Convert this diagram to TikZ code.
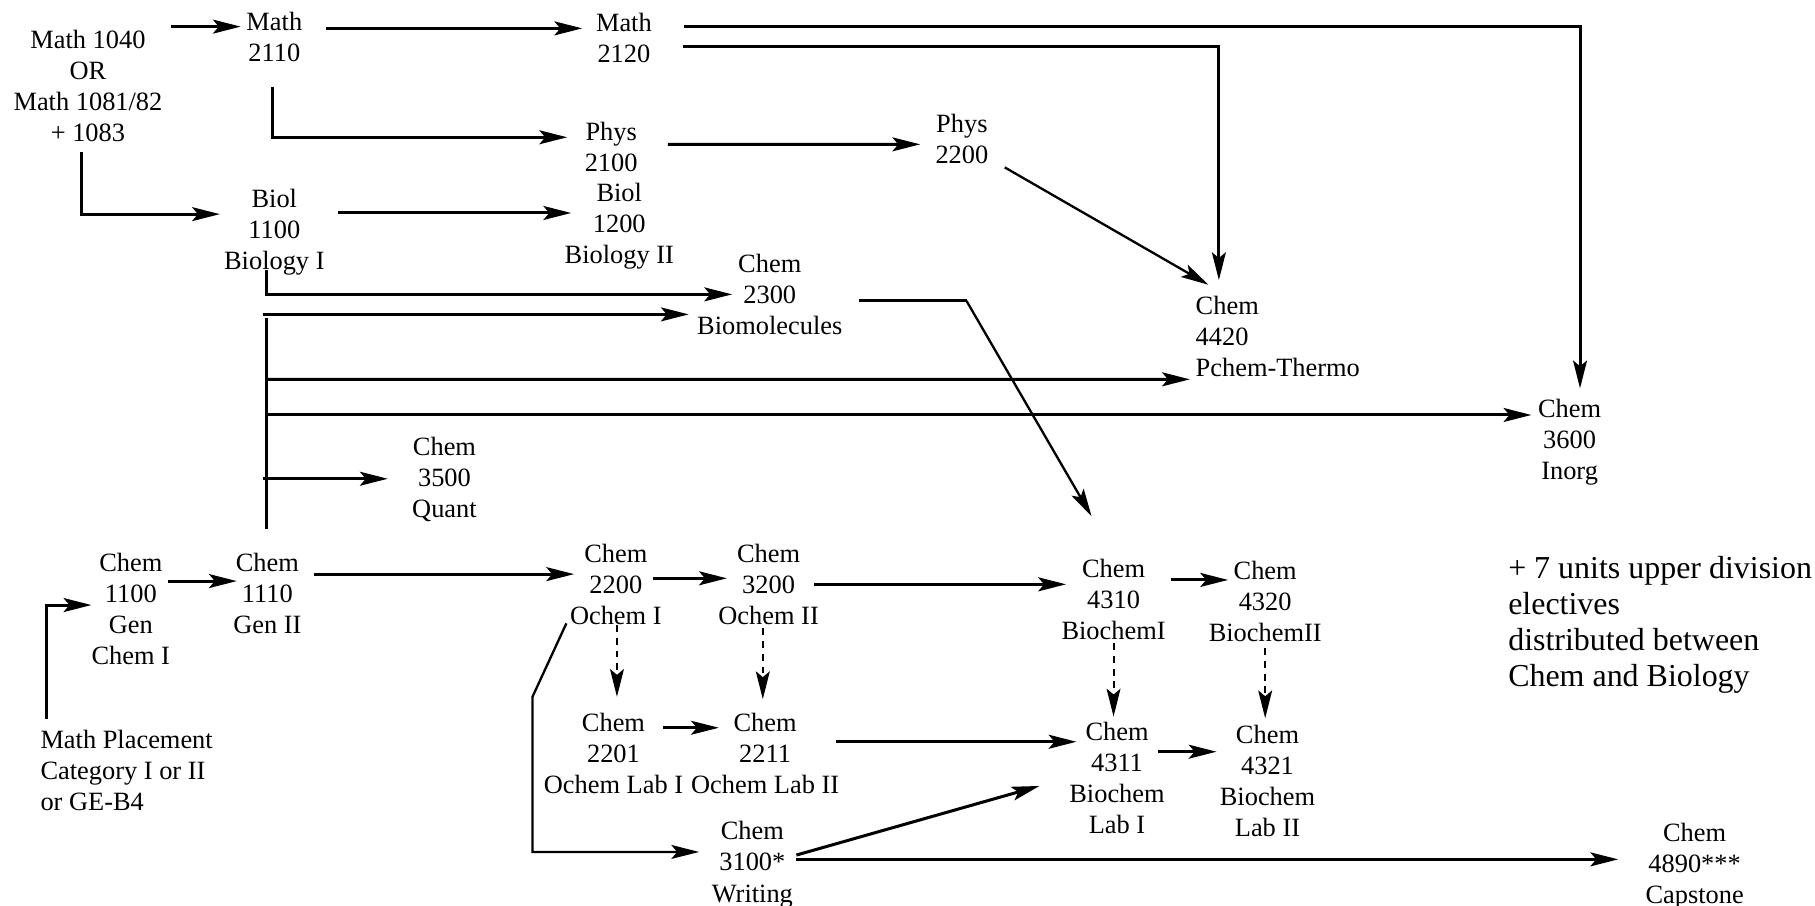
\documentclass[tikz,border=0pt]{standalone}
\usepackage{fontspec}
\setmainfont{Liberation Serif}
\usetikzlibrary{arrows.meta}
\begin{document}
\begin{tikzpicture}[x=0.5pt,y=-0.5pt,
  every node/.style={inner sep=0pt, outer sep=0pt, font=\fontsize{11.4}{13.4}\selectfont, align=center},
  note/.style={align=left, anchor=west},
  bignote/.style={align=left, anchor=west, font=\fontsize{13.8}{15.5}\selectfont},
  link/.style={line width=1.3pt},
  tip/.style={-{Stealth[length=12pt,width=6pt,inset=2.5pt]}},
  arr/.style={link, tip},
  thinarr/.style={line width=1pt, tip},
  dasharr/.style={line width=0.9pt, dash pattern=on 3pt off 2.5pt, tip}]
\useasboundingbox (0,0) rectangle (1568,782);

% nodes
\node (m1040) at (76,74) {Math 1040\\OR\\Math 1081/82\\+ 1083};
\node (m2110) at (237,32) {Math\\2110};
\node (m2120) at (539,33) {Math\\2120};
\node (p2100) at (528,127) {Phys\\2100};
\node (b1200) at (535,195) {Biol\\1200\\Biology II};
\node (p2200) at (831,120) {Phys\\2200};
\node (b1100) at (237,201) {Biol\\1100\\Biology I};
\node (c2300) at (665,254) {Chem\\2300\\Biomolecules};
\node[note] (c4420) at (1033,291) {Chem\\4420\\Pchem-Thermo};
\node (c3600) at (1356,382) {Chem\\3600\\Inorg};
\node (c3500) at (384,414) {Chem\\3500\\Quant};
\node (c1100) at (113,526) {Chem\\1100\\Gen\\Chem I};
\node (c1110) at (231,513) {Chem\\1110\\Gen II};
\node (c2200) at (532,505) {Chem\\2200\\Ochem I};
\node (c3200) at (664,505) {Chem\\3200\\Ochem II};
\node (c4310) at (962,518) {Chem\\4310\\BiochemI};
\node (c4320) at (1093,520) {Chem\\4320\\BiochemII};
\node (c2201) at (530,651) {Chem\\2201\\Ochem Lab I};
\node (c2211) at (661,651) {Chem\\2211\\Ochem Lab II};
\node (c4311) at (965,672) {Chem\\4311\\Biochem\\Lab I};
\node (c4321) at (1095,675) {Chem\\4321\\Biochem\\Lab II};
\node (c3100) at (650,747) {Chem\\3100*\\Writing};
\node (c4890) at (1464,748) {Chem\\4890***\\Capstone};
\node[note] (mplace) at (35,666) {Math Placement\\Category I or II\\or GE-B4};
\node[bignote] (elect) at (1303,540) {+ 7 units upper division\\electives\\distributed between\\Chem and Biology};

% math / physics / biology chain
\draw[arr] ([shift={(72,-51)}]m1040.center) -- ([shift={(-29,-9)}]m2110.center);
\draw[arr] ([shift={(45,-7.5)}]m2110.center) -- ([shift={(-36,-8.5)}]m2120.center);
\draw[arr] ([shift={(52,-10.5)}]m2120.center) -| ([shift={(9,-46.5)}]c3600.center);
\draw[arr] ([shift={(51,7)}]m2120.center) -| ([shift={(20,-49)}]c4420.west);
\draw[arr] ([shift={(-2,43.5)}]m2110.center) |- ([shift={(-38,-8.4)}]p2100.center);
\draw[arr] ([shift={(49,-2.3)}]p2100.center) -- ([shift={(-36,4.7)}]p2200.center);
\draw[thinarr] ([shift={(37,24.6)}]p2200.center) -- ([shift={(11,-45)}]c4420.west);
\draw[arr] ([shift={(-6,57.6)}]m1040.center) |- ([shift={(-47,-16)}]b1100.center);
\draw[arr] ([shift={(55,-17)}]b1100.center) -- ([shift={(-41.5,-11)}]b1200.center);
\draw[arr] ([shift={(-7,32)}]b1100.center) |- ([shift={(-32.5,0.3)}]c2300.center);

% trunk from Chem 1110
\draw[link] ([shift={(-1,-56)}]c1110.center) -- ([shift={(-1,-238)}]c1110.center);
\draw[arr] ([shift={(-4,-241.4)}]c1110.center) -- ([shift={(-70,17.6)}]c2300.center);
\draw[arr] ([shift={(-1,-185.3)}]c1110.center) -- ([shift={(-5,36.7)}]c4420.west);
\draw[arr] ([shift={(-1,-154.5)}]c1110.center) -- ([shift={(-33,-23.5)}]c3600.center);
\draw[arr] ([shift={(-4,-99.4)}]c1110.center) -- ([shift={(-49,-0.4)}]c3500.center);

% Chem 2300 to Chem 4310
\draw[link] ([shift={(77.5,6)}]c2300.center) -- ++(92.5,0) coordinate (bend);
\draw[thinarr] (bend) -- ([shift={(-19,-72)}]c4310.center);

% general chemistry
\draw[arr] ([shift={(32,-24)}]c1100.center) -- ([shift={(-26.4,-11)}]c1110.center);
\draw[arr] ([shift={(5.3,-45)}]mplace.west) |- ([shift={(-34,-3.3)}]c1100.center);
\draw[arr] ([shift={(40,-17)}]c1110.center) -- ([shift={(-36,-9)}]c2200.center);

% organic / biochem
\draw[arr] ([shift={(32,-5.4)}]c2200.center) -- ([shift={(-36,-5.4)}]c3200.center);
\draw[arr] ([shift={(39,-0.2)}]c3200.center) -- ([shift={(-41,-13.2)}]c4310.center);
\draw[arr] ([shift={(49.6,-17)}]c4310.center) -- ([shift={(-32,-19)}]c4320.center);
\draw[dasharr] ([shift={(1,35)}]c2200.center) -- ([shift={(3,-49)}]c2201.center);
\draw[dasharr] ([shift={(-5,37.8)}]c3200.center) -- ([shift={(-2,-47)}]c2211.center);
\draw[dasharr] ([shift={(0,37.7)}]c4310.center) -- ([shift={(-3,-53)}]c4311.center);
\draw[dasharr] ([shift={(0,40)}]c4320.center) -- ([shift={(-2,-54.5)}]c4321.center);
\draw[arr] ([shift={(43,-22.3)}]c2201.center) -- ([shift={(-40,-22.3)}]c2211.center);
\draw[arr] ([shift={(61,-10.2)}]c2211.center) -- ([shift={(-35,-31.2)}]c4311.center);
\draw[arr] ([shift={(35.5,-22.6)}]c4311.center) -- ([shift={(-44,-25.6)}]c4321.center);

% writing and capstone
\draw[thinarr] ([shift={(-42.7,33.5)}]c2200.center) -- ++(-29.3,63.5) |- ([shift={(-46,-11)}]c3100.center);
\draw[arr] ([shift={(38,-8.3)}]c3100.center) -- ([shift={(-67,7)}]c4311.center);
\draw[arr] ([shift={(38,-4.6)}]c3100.center) -- ([shift={(-66,-5.6)}]c4890.center);
\end{tikzpicture}
\end{document}
